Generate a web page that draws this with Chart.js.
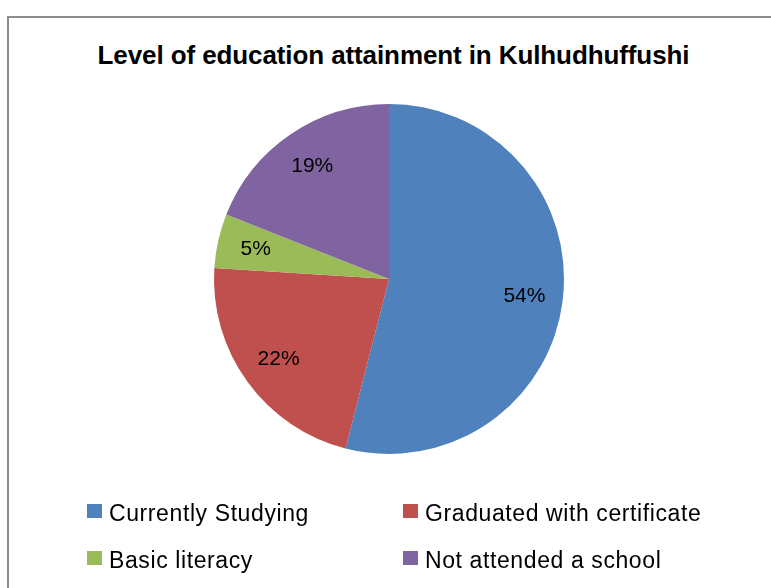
<!DOCTYPE html>
<html>
<head>
<meta charset="utf-8">
<script src="https://cdn.jsdelivr.net/npm/chart.js@4/dist/chart.umd.min.js"></script>
<style>
    html, body { margin: 0; padding: 0; background: #fff; }
    body { width: 771px; height: 588px; position: relative; overflow: hidden; font-family: 'Liberation Sans', Arial, sans-serif; }
    .frame { position: absolute; left: 7px; top: 16px; width: 800px; height: 600px; border: 2px solid #8c8c8c; box-sizing: border-box; }
    .title { position: absolute; left: 0; width: 787px; top: 40px; text-align: center; font-weight: bold; font-size: 26px; letter-spacing: -0.1px; color: #000; }
    .chart-box { position: absolute; left: 0; top: 0; width: 771px; height: 588px; }
    .legend-item { position: absolute; font-size: 23px; line-height: 23px; letter-spacing: 0.6px; color: #000; white-space: nowrap; }
    .legend-item .swatch { position: absolute; left: 0; top: 2px; width: 15px; height: 14px; }
    .legend-item .label { position: absolute; left: 22px; top: 0; }
</style>
</head>
<body>
<div class="frame"></div>
<div class="title">Level of education attainment in Kulhudhuffushi</div>
<div class="chart-box"><canvas id="pieChart"></canvas></div>
<div id="legend"></div>

<script>
const categories = ['Currently Studying', 'Graduated with certificate', 'Basic literacy', 'Not attended a school'];
const percentValues = [54, 22, 5, 19];
const sliceColors = ['#4F81BD', '#C0504D', '#9BBB59', '#8064A2'];

document.addEventListener('DOMContentLoaded', function() {
    initPieChart();
    buildLegend();
});

// procenty wewnatrz wycinkow
const sliceLabels = {
    id: 'sliceLabels',
    afterDatasetsDraw(chart) {
        const ctx = chart.ctx;
        const meta = chart.getDatasetMeta(0);
        ctx.save();
        ctx.font = '21px "Liberation Sans", Arial, sans-serif';
        ctx.fillStyle = '#000';
        ctx.textAlign = 'center';
        ctx.textBaseline = 'middle';
        meta.data.forEach((arc, i) => {
            const mid = (arc.startAngle + arc.endAngle) / 2;
            const r = arc.outerRadius * 0.78;
            const x = arc.x + Math.cos(mid) * r;
            const y = arc.y + Math.sin(mid) * r;
            ctx.fillText(percentValues[i] + '%', x, y);
        });
        ctx.restore();
    }
};

function initPieChart() {
    const ctx = document.getElementById('pieChart').getContext('2d');

    new Chart(ctx, {
        type: 'pie',
        data: {
            labels: categories,
            datasets: [{
                data: percentValues,
                backgroundColor: sliceColors,
                borderWidth: 0
            }]
        },
        options: {
            responsive: true,
            maintainAspectRatio: false,
            animation: false,
            layout: {
                padding: { left: 214, right: 207, top: 104, bottom: 134 }
            },
            plugins: {
                legend: { display: false },
                tooltip: { enabled: false }
            }
        },
        plugins: [sliceLabels]
    });
}

function buildLegend() {
    const legend = document.getElementById('legend');
    const spots = [[87, 502], [403, 502], [87, 549], [403, 549]];
    categories.forEach((name, i) => {
        const item = document.createElement('div');
        item.className = 'legend-item';
        item.style.left = spots[i][0] + 'px';
        item.style.top = spots[i][1] + 'px';
        item.innerHTML = '<span class="swatch" style="background:' + sliceColors[i] + '"></span><span class="label">' + name + '</span>';
        legend.appendChild(item);
    });
}
</script>
</body>
</html>
